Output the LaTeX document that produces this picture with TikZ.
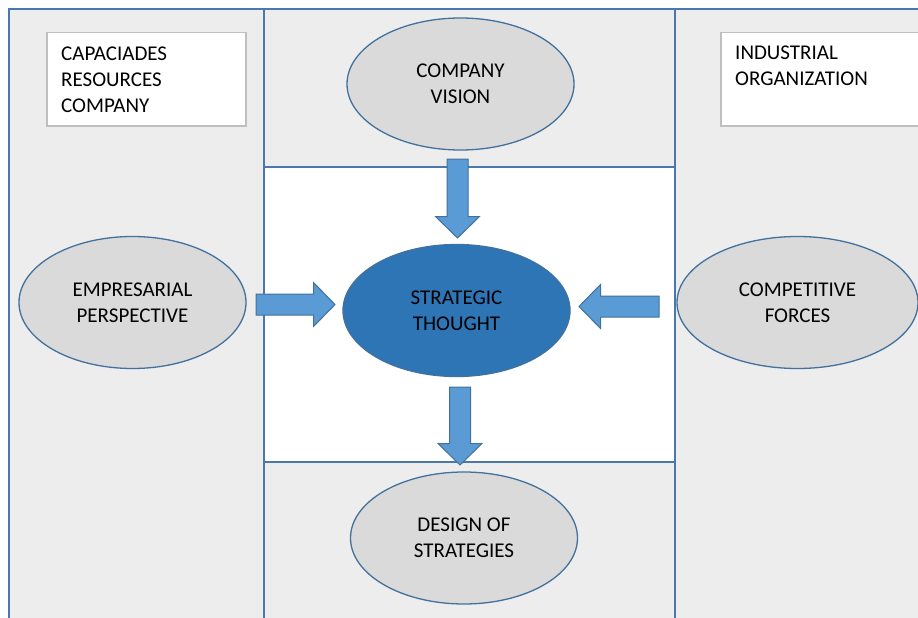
\documentclass[tikz,border=0pt]{standalone}
\usepackage{fontspec}
\setmainfont{Carlito}
\usepackage{tikz}
\usetikzlibrary{shapes.geometric}
\definecolor{panelgray}{HTML}{EDEDED}
\definecolor{ovalgray}{HTML}{DADADA}
\definecolor{frameblue}{HTML}{4A78AC}
\definecolor{ovalblue}{HTML}{41719C}
\definecolor{thoughtblue}{HTML}{2E75B6}
\definecolor{arrowblue}{HTML}{5B9BD5}
\definecolor{boxgray}{HTML}{BFBFBF}
\newcommand\diagfont{\fontsize{21}{26}\selectfont}
\def\blockarrow(#1)(#2:#3){\draw[blockarrow, shift={(#1)}, rotate=#2] (0,-10.5) -- ({#3-21.5},-10.5) -- ({#3-21.5},-22) -- (#3,0) -- ({#3-21.5},22) -- ({#3-21.5},10.5) -- (0,10.5) -- cycle;}
\tikzset{
	frameline/.style={line width=1.8pt, color=frameblue},
	oval/.style={ellipse, draw=ovalblue, line width=1.3pt, fill=ovalgray, minimum width=227, minimum height=132, inner sep=0pt, align=center, font=\diagfont, text=black},
	infobox/.style={draw=boxgray, line width=1.5pt, fill=white, anchor=north west, minimum height=93},
	boxtext/.style={anchor=north west, inner sep=0pt, align=left, font=\diagfont, text=black},
	blockarrow/.style={fill=arrowblue, draw=ovalblue, line width=1pt}
}

\begin{document}
\begin{tikzpicture}[x=1pt, y=-1pt]
		%%%%% START %%%%%
		\useasboundingbox (0,0) rectangle (918,618);
		\clip (0,0) rectangle (918,618);
		
		\fill[panelgray] (9,9) rectangle (940,640);
		\fill[white] (264,167) rectangle (675,462);
		
		\draw[frameline] (9,640) -- (9,9) -- (940,9);
		\draw[frameline] (264,9) -- (264,640);
		\draw[frameline] (675,9) -- (675,640);
		\draw[frameline] (264,167) -- (675,167);
		\draw[frameline] (264,462) -- (675,462);
		
		\node[infobox, minimum width=199] (capbox) at (46,32) {};
		\node[boxtext] (captext) at ([shift={(15,15)}]capbox.north west) {CAPACIADES\\RESOURCES\\COMPANY};
		
		\node[infobox, minimum width=240] (indbox) at (720,32) {};
		\node[boxtext] (indtext) at ([shift={(15,14)}]indbox.north west) {INDUSTRIAL\\ORGANIZATION};
		
		\node[oval] (vision) at (460.5,84) {COMPANY\\VISION};
		\node[oval] (empresarial) at (132.5,302.5) {EMPRESARIAL\\PERSPECTIVE};
		\node[oval, fill=thoughtblue] (thought) at (456.5,310.5) {STRATEGIC\\THOUGHT};
		\node[oval, minimum width=241] (forces) at (797.5,302.5) {COMPETITIVE\\FORCES};
		\node[oval] (design) at (464,538) {DESIGN OF\\STRATEGIES};
		
		\blockarrow(457.5,159)(-90:79)
		\blockarrow(256,304.5)(0:79)
		\blockarrow(659,306.5)(180:80)
		\blockarrow(460,387)(-90:78)
		%%%%% END %%%%%
\end{tikzpicture}
\end{document}
